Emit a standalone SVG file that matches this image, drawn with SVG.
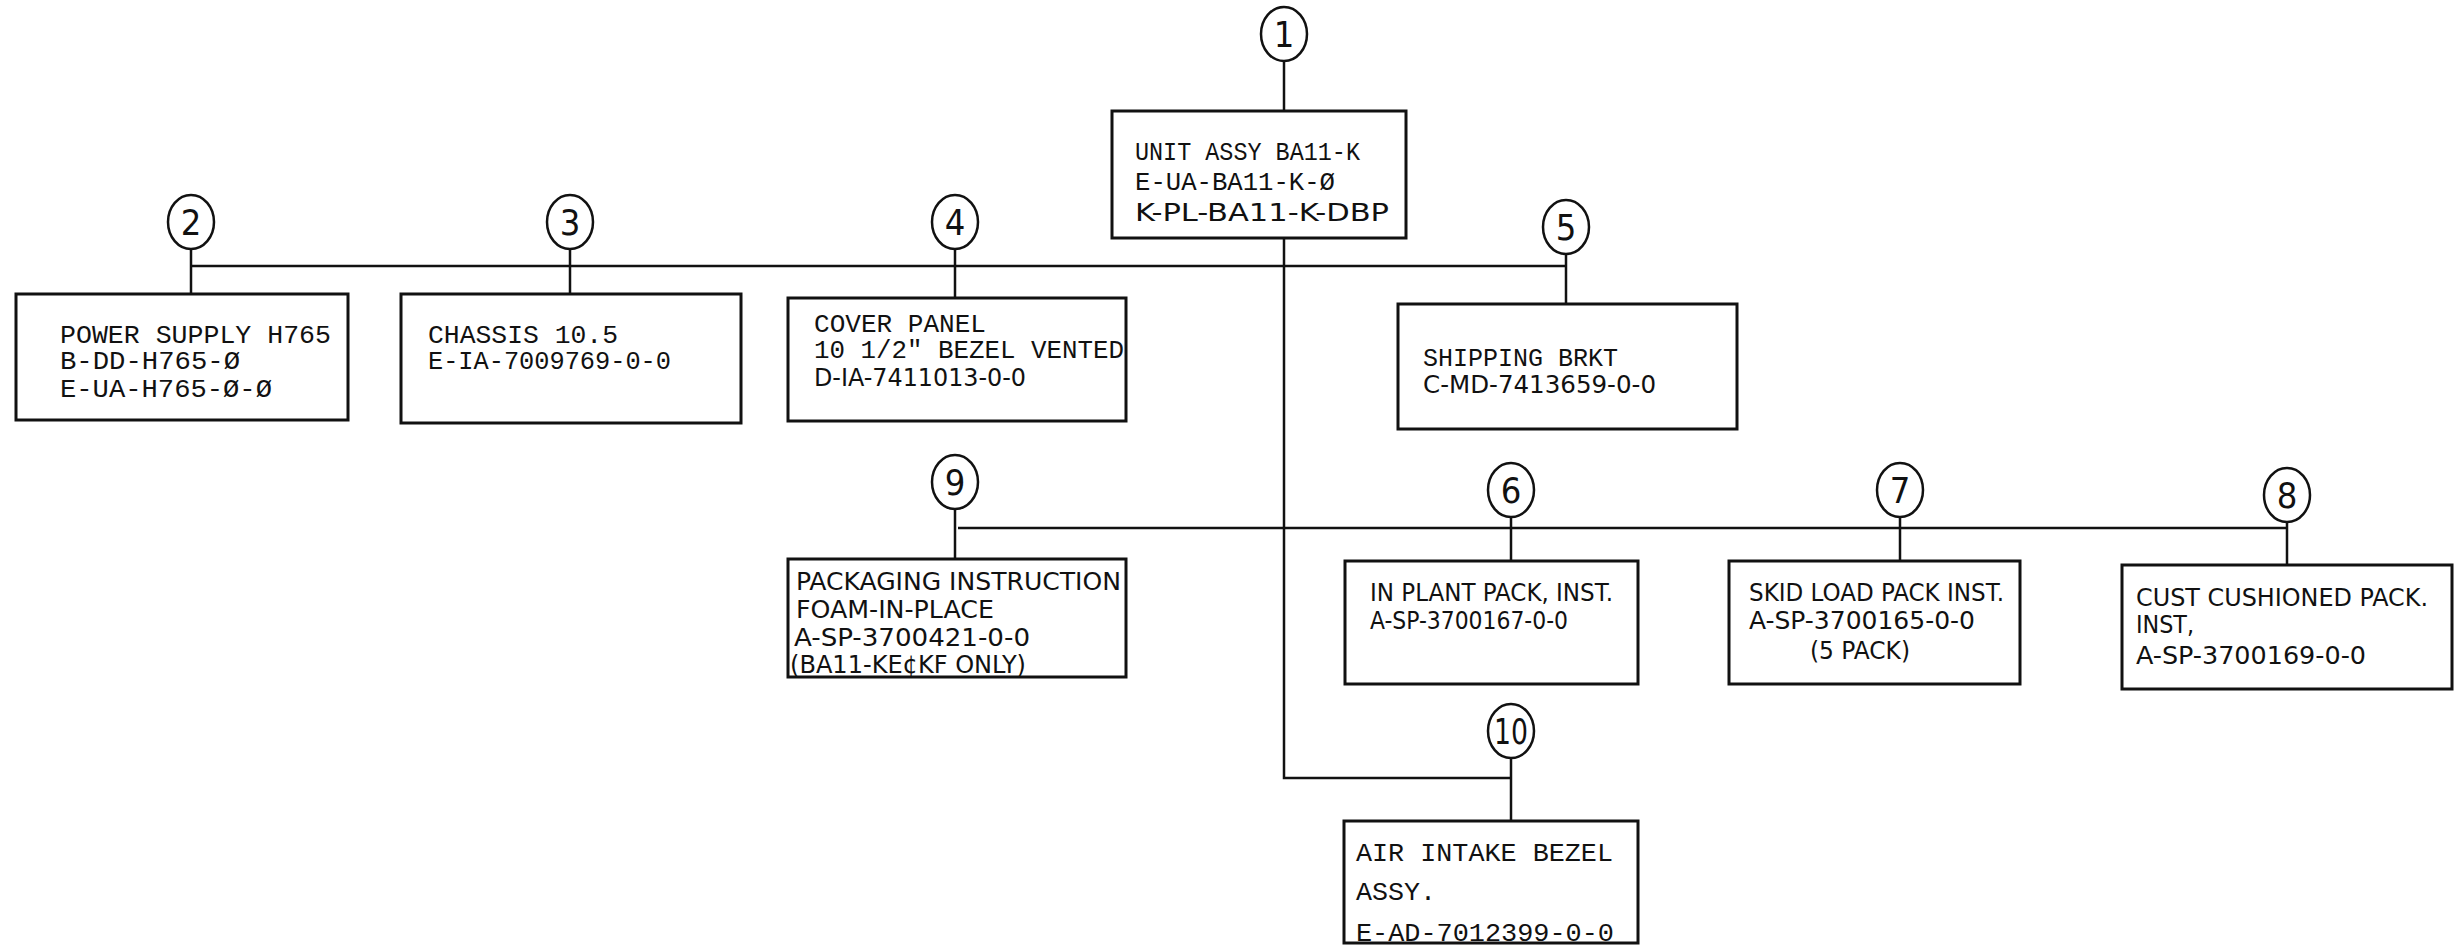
<svg xmlns="http://www.w3.org/2000/svg" width="2455" height="948" viewBox="0 0 2455 948">
<style>
.bg{fill:#fff}
.box{fill:#fff;stroke:#111;stroke-width:3}
.bal{fill:#fff;stroke:#111;stroke-width:2.5}
.num{font-family:"DejaVu Sans Condensed","DejaVu Sans",sans-serif;font-size:36px;fill:#111;text-anchor:middle}
.tw{font-family:"Liberation Mono","Courier New",monospace;font-size:25px;fill:#111}
.le{font-family:"DejaVu Sans Condensed","DejaVu Sans",sans-serif;font-size:24px;fill:#111}
.ln{stroke:#111;stroke-width:2.5;fill:none}
</style>
<rect class="bg" x="0" y="0" width="2455" height="948"/>
<g id="connectors">
<path class="ln" d="M1284 62V111"/>
<path class="ln" d="M1284 238V778H1511"/>
<path class="ln" d="M1511 759V821"/>
<path class="ln" d="M191 266H1566"/>
<path class="ln" d="M191 250V294M570 250V294M955 250V298M1566 255V304"/>
<path class="ln" d="M958 528H2287"/>
<path class="ln" d="M955 510V559M1511 518V561M1900 518V561M2287 523V565"/>
</g>
<g id="node1">
<ellipse class="bal" cx="1284" cy="34" rx="23" ry="27"/><text class="num" x="1284" y="47">1</text>
<rect class="box" x="1112" y="111" width="294" height="127"/>
<text class="tw" x="1135" y="160" textLength="225" lengthAdjust="spacingAndGlyphs">UNIT ASSY BA11-K</text>
<text class="tw" x="1135" y="190" textLength="200" lengthAdjust="spacingAndGlyphs">E-UA-BA11-K-Ø</text>
<text class="le" x="1135" y="221" textLength="254" lengthAdjust="spacingAndGlyphs">K-PL-BA11-K-DBP</text>
</g>
<g id="node2">
<ellipse class="bal" cx="191" cy="222" rx="23" ry="27"/><text class="num" x="191" y="235">2</text>
<rect class="box" x="16" y="294" width="332" height="126"/>
<text class="tw" x="60" y="343" textLength="271" lengthAdjust="spacingAndGlyphs">POWER SUPPLY H765</text>
<text class="tw" x="60" y="369" textLength="180" lengthAdjust="spacingAndGlyphs">B-DD-H765-Ø</text>
<text class="tw" x="60" y="397" textLength="212" lengthAdjust="spacingAndGlyphs">E-UA-H765-Ø-Ø</text>
</g>
<g id="node3">
<ellipse class="bal" cx="570" cy="222" rx="23" ry="27"/><text class="num" x="570" y="235">3</text>
<rect class="box" x="401" y="294" width="340" height="129"/>
<text class="tw" x="428" y="343" textLength="190" lengthAdjust="spacingAndGlyphs">CHASSIS 10.5</text>
<text class="tw" x="428" y="369" textLength="243" lengthAdjust="spacingAndGlyphs">E-IA-7009769-0-0</text>
</g>
<g id="node4">
<ellipse class="bal" cx="955" cy="222" rx="23" ry="27"/><text class="num" x="955" y="235">4</text>
<rect class="box" x="788" y="298" width="338" height="123"/>
<text class="tw" x="814" y="332" textLength="172" lengthAdjust="spacingAndGlyphs">COVER PANEL</text>
<text class="tw" x="814" y="358" textLength="310" lengthAdjust="spacingAndGlyphs">10 1/2" BEZEL VENTED</text>
<text class="le" x="814" y="386" textLength="212" lengthAdjust="spacingAndGlyphs">D-IA-7411013-0-0</text>
</g>
<g id="node5">
<ellipse class="bal" cx="1566" cy="227" rx="23" ry="27"/><text class="num" x="1566" y="240">5</text>
<rect class="box" x="1398" y="304" width="339" height="125"/>
<text class="tw" x="1423" y="366" textLength="195" lengthAdjust="spacingAndGlyphs">SHIPPING BRKT</text>
<text class="le" x="1423" y="393" textLength="233" lengthAdjust="spacingAndGlyphs">C-MD-7413659-0-0</text>
</g>
<g id="node9">
<ellipse class="bal" cx="955" cy="482" rx="23" ry="27"/><text class="num" x="955" y="495">9</text>
<rect class="box" x="788" y="559" width="338" height="118"/>
<text class="le" x="796" y="590" textLength="325" lengthAdjust="spacingAndGlyphs">PACKAGING INSTRUCTION</text>
<text class="le" x="796" y="618" textLength="198" lengthAdjust="spacingAndGlyphs">FOAM-IN-PLACE</text>
<text class="le" x="794" y="646" textLength="236" lengthAdjust="spacingAndGlyphs">A-SP-3700421-0-0</text>
<text class="le" x="790" y="673" textLength="236" lengthAdjust="spacingAndGlyphs">(BA11-KE¢KF ONLY)</text>
</g>
<g id="node6">
<ellipse class="bal" cx="1511" cy="490" rx="23" ry="27"/><text class="num" x="1511" y="503">6</text>
<rect class="box" x="1345" y="561" width="293" height="123"/>
<text class="le" x="1370" y="601" textLength="243" lengthAdjust="spacingAndGlyphs">IN PLANT PACK, INST.</text>
<text class="le" x="1370" y="629" textLength="198" lengthAdjust="spacingAndGlyphs">A-SP-3700167-0-0</text>
</g>
<g id="node7">
<ellipse class="bal" cx="1900" cy="490" rx="23" ry="27"/><text class="num" x="1900" y="503">7</text>
<rect class="box" x="1729" y="561" width="291" height="123"/>
<text class="le" x="1749" y="601" textLength="255" lengthAdjust="spacingAndGlyphs">SKID LOAD PACK INST.</text>
<text class="le" x="1749" y="629" textLength="226" lengthAdjust="spacingAndGlyphs">A-SP-3700165-0-0</text>
<text class="le" x="1810" y="659" textLength="100" lengthAdjust="spacingAndGlyphs">(5 PACK)</text>
</g>
<g id="node8">
<ellipse class="bal" cx="2287" cy="495" rx="23" ry="27"/><text class="num" x="2287" y="508">8</text>
<rect class="box" x="2122" y="565" width="330" height="124"/>
<text class="le" x="2136" y="606" textLength="292" lengthAdjust="spacingAndGlyphs">CUST CUSHIONED PACK.</text>
<text class="le" x="2136" y="633" textLength="58" lengthAdjust="spacingAndGlyphs">INST,</text>
<text class="le" x="2136" y="664" textLength="230" lengthAdjust="spacingAndGlyphs">A-SP-3700169-0-0</text>
</g>
<g id="node10">
<ellipse class="bal" cx="1511" cy="731" rx="23" ry="27"/><text class="num" x="1511" y="744" textLength="34" lengthAdjust="spacingAndGlyphs">10</text>
<rect class="box" x="1344" y="821" width="294" height="122"/>
<text class="tw" x="1356" y="861" textLength="257" lengthAdjust="spacingAndGlyphs">AIR INTAKE BEZEL</text>
<text class="tw" x="1356" y="900" textLength="80" lengthAdjust="spacingAndGlyphs">ASSY.</text>
<text class="tw" x="1356" y="941" textLength="258" lengthAdjust="spacingAndGlyphs">E-AD-7012399-0-0</text>
</g>
</svg>
